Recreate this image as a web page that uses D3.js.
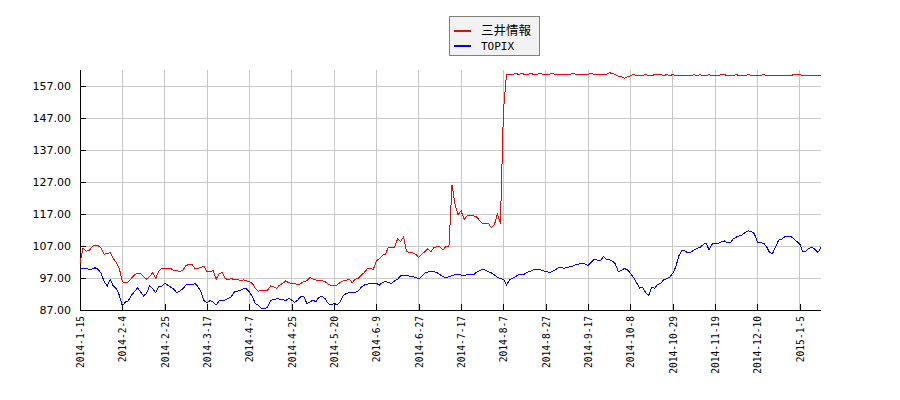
<!DOCTYPE html>
<html>
<head>
<meta charset="utf-8">
<script src="https://cdn.jsdelivr.net/npm/d3@7"></script>
<style>
  html, body { margin: 0; padding: 0; background: #ffffff; }
  svg { display: block; }
</style>
</head>
<body>
<svg id="chart" width="900" height="400"></svg>
<script>
// ---- data ----
const seriesNames = ["三井情報", "TOPIX"];
const seriesColors = ["#ff0000", "#0000ff"];

// tick labels (one every 14 trading days, starting at trading day 0)
const tickLabels = ["2014-1-15", "2014-2-4", "2014-2-25", "2014-3-17", "2014-4-7", "2014-4-25",
  "2014-5-20", "2014-6-9", "2014-6-27", "2014-7-17", "2014-8-7", "2014-8-27", "2014-9-17",
  "2014-10-8", "2014-10-29", "2014-11-19", "2014-12-10", "2015-1-5"];
const tickStep = 14;

const yTicks = [87, 97, 107, 117, 127, 137, 147, 157];
const yDomain = [87, 162];

// 三井情報 (one value per trading day)
const mitsui = [
  101.6,106.3,105.4,105.5,106.8,107.3,107.1,106.3,104.4,104.7,
  104.9,103.1,101.9,100.0,95.8,95.5,95.8,96.9,97.9,98.5,
  98.5,97.4,96.7,97.4,98.7,96.9,99.0,100.0,100.0,100.0,
  100.0,99.3,99.3,99.0,99.5,100.8,101.3,101.3,100.0,100.0,
  100.3,100.8,99.0,99.0,99.3,96.6,98.3,98.7,96.9,96.4,
  96.9,96.4,96.6,96.2,96.4,96.1,95.8,95.3,93.7,92.9,
  93.2,93.0,93.2,94.5,94.3,93.8,94.8,95.3,96.1,95.5,
  95.3,95.3,94.8,95.3,96.0,96.1,97.1,96.7,96.4,96.1,
  96.1,95.9,95.1,94.6,94.6,94.8,95.6,96.1,96.2,96.7,
  95.5,96.6,96.9,97.9,98.7,99.9,99.9,99.7,102.4,103.1,
  104.1,104.5,106.6,106.4,106.6,109.2,108.4,109.9,105.2,105.0,
  104.9,104.4,103.4,104.5,105.2,106.1,105.2,106.5,106.8,106.8,
  105.75,106.8,107.0,126.1,120.0,116.7,118.0,115.3,116.4,116.4,
  116.4,116.2,115.1,114.1,114.1,114.1,112.7,113.6,117.0,114.0,
  149.0,160.6,160.6,160.6,161.0,160.6,161.0,160.6,160.6,161.0,
  160.6,160.6,161.0,160.6,160.6,160.6,161.0,160.6,160.6,160.6,
  160.6,160.6,160.6,161.0,160.6,160.6,160.6,160.6,160.6,161.0,
  160.6,160.6,160.6,160.6,160.6,161.1,161.0,160.6,160.1,159.9,
  159.4,159.9,160.2,160.6,160.2,160.2,160.2,160.6,160.2,160.2,
  160.6,160.6,160.6,160.2,160.6,160.2,160.6,160.2,160.2,160.2,
  160.2,160.2,160.2,160.6,160.2,160.6,160.2,160.2,160.6,160.2,
  160.2,160.2,160.6,160.6,160.2,160.2,160.2,160.6,160.2,160.2,
  160.2,160.6,160.2,160.2,160.2,160.2,160.6,160.2,160.2,160.2,
  160.2,160.2,160.2,160.2,160.2,160.2,160.6,160.6,160.6,160.2,
  160.2,160.2,160.2,160.2,160.2,160.2
];

// TOPIX (rebased, one value per trading day)
const topix = [
  100.0,100.0,100.0,99.7,99.8,100.2,99.7,98.5,95.8,94.5,
  96.6,94.5,93.7,91.6,88.2,89.5,89.9,91.6,92.7,93.9,
  92.7,91.4,92.2,94.5,93.7,92.4,94.3,94.3,95.3,94.8,
  94.1,93.5,92.4,92.9,93.6,94.8,95.1,94.8,95.3,94.3,
  92.7,89.9,89.2,89.9,89.5,88.5,89.8,89.9,90.1,90.6,
  91.1,92.6,92.9,93.2,93.6,93.6,92.7,91.1,89.0,88.5,
  87.4,87.4,87.9,89.9,90.3,90.5,90.4,90.3,89.9,90.6,
  90.1,89.4,90.1,91.2,91.2,89.1,89.4,90.1,89.6,91.0,
  91.2,90.6,89.1,88.6,89.1,88.6,89.6,91.4,92.2,92.4,
  92.4,92.4,93.0,94.1,94.8,95.1,95.3,95.3,95.3,94.8,
  95.6,95.9,95.6,95.3,96.1,96.6,97.7,97.7,97.7,97.6,
  97.4,97.2,96.7,97.6,98.5,98.9,99.0,99.0,98.7,98.1,
  97.4,97.1,97.4,97.7,98.0,98.1,97.9,97.6,98.1,98.1,
  97.9,98.7,99.3,99.7,99.5,99.0,98.6,98.0,97.3,96.8,
  96.6,94.8,96.4,96.9,97.4,98.1,98.1,98.25,98.8,99.1,
  99.7,99.5,99.7,99.3,99.0,98.8,98.9,99.5,100.1,100.3,
  100.0,100.3,100.5,100.75,101.2,101.4,101.4,101.4,100.9,101.9,
  102.8,102.6,102.3,103.7,102.9,102.8,102.3,101.4,99.0,99.3,
  100.0,99.5,98.5,97.2,95.6,93.8,94.1,92.5,91.5,94.0,
  93.8,95.0,95.4,96.4,96.8,97.2,98.5,100.5,103.9,105.75,
  105.5,104.8,105.1,105.75,106.3,106.6,107.4,108.0,105.75,107.6,
  107.8,107.8,108.25,108.6,108.1,108.0,109.2,109.8,110.2,110.5,
  111.3,111.7,111.6,110.75,108.25,108.0,107.9,106.8,104.9,104.7,
  106.8,108.8,109.1,109.9,110.1,110.0,109.3,108.4,107.6,105.2,
  105.3,106.3,106.5,106.0,105.0,106.5
];

// ---- drawing ----
const margin = { left: 80, right: 79, top: 70, bottom: 90 };
const W = 900, H = 400;
const svg = d3.select("#chart");

const n = mitsui.length;
const x = d3.scaleLinear().domain([0, n - 1]).range([margin.left, W - margin.right]);
const y = d3.scaleLinear().domain(yDomain).range([H - margin.bottom, margin.top]);

const tickIdx = tickLabels.map((_, i) => i * tickStep);

// grid
const grid = svg.append("g").attr("shape-rendering", "crispEdges");
grid.selectAll("line.h").data(yTicks).enter().append("line")
  .attr("x1", margin.left).attr("x2", W - margin.right)
  .attr("y1", d => y(d)).attr("y2", d => y(d))
  .attr("stroke", "#c8c8c8").attr("stroke-width", 1);
grid.selectAll("line.v").data(tickIdx).enter().append("line")
  .attr("x1", d => x(d)).attr("x2", d => x(d))
  .attr("y1", margin.top).attr("y2", H - margin.bottom)
  .attr("stroke", "#c8c8c8").attr("stroke-width", 1);

// axes
const yAxis = d3.axisLeft(y).tickValues(yTicks).tickSize(-6).tickPadding(9)
  .tickFormat(d => d3.format(".2f")(d));
const gy = svg.append("g").attr("transform", `translate(${margin.left},0)`)
  .attr("shape-rendering", "crispEdges").call(yAxis);
gy.select(".domain").attr("stroke", "#000").attr("d", `M0,${margin.top}V${H - margin.bottom}`);
gy.selectAll(".tick line").attr("stroke", "#000");
gy.selectAll(".tick text").attr("font-family", "DejaVu Sans").attr("font-size", 11).attr("fill", "#000");

const xAxis = d3.axisBottom(x).tickValues(tickIdx).tickSize(-6).tickPadding(6)
  .tickFormat((d, i) => tickLabels[i]);
const gx = svg.append("g").attr("transform", `translate(0,${H - margin.bottom})`)
  .attr("shape-rendering", "crispEdges").call(xAxis);
gx.select(".domain").attr("stroke", "#000").attr("d", `M${margin.left},0H${W - margin.right}`);
gx.selectAll(".tick line").attr("stroke", "#000");
gx.selectAll(".tick text")
  .attr("font-family", "DejaVu Sans Mono").attr("font-size", 9.6).attr("fill", "#000")
  .attr("text-anchor", "end").attr("dy", "0.35em")
  .attr("transform", "translate(0,6) rotate(-90)")
  .attr("x", 0).attr("y", 0);

// lines
const line = d3.line().x((d, i) => x(i)).y(d => y(d));
[mitsui, topix].forEach((s, k) => {
  svg.append("path").datum(s)
    .attr("d", line)
    .attr("fill", "none")
    .attr("stroke", seriesColors[k])
    .attr("stroke-width", 1)
    .attr("shape-rendering", "crispEdges");
});

// legend
const lg = svg.append("g");
lg.append("rect").attr("x", 449.5).attr("y", 16.5).attr("width", 90).attr("height", 39)
  .attr("fill", "#f2f2f2").attr("stroke", "#808080").attr("stroke-width", 1);
seriesNames.forEach((name, k) => {
  const cy = 31 + k * 15;
  lg.append("line").attr("x1", 454).attr("x2", 471).attr("y1", cy).attr("y2", cy)
    .attr("stroke", seriesColors[k]).attr("stroke-width", 2);
  lg.append("text").attr("x", 481).attr("y", cy).attr("dy", "0.35em")
    .attr("font-family", k === 0 ? "Noto Sans CJK JP" : "DejaVu Sans Mono")
    .attr("font-size", k === 0 ? 12.5 : 11)
    .attr("fill", "#000").text(name);
});
</script>
</body>
</html>
